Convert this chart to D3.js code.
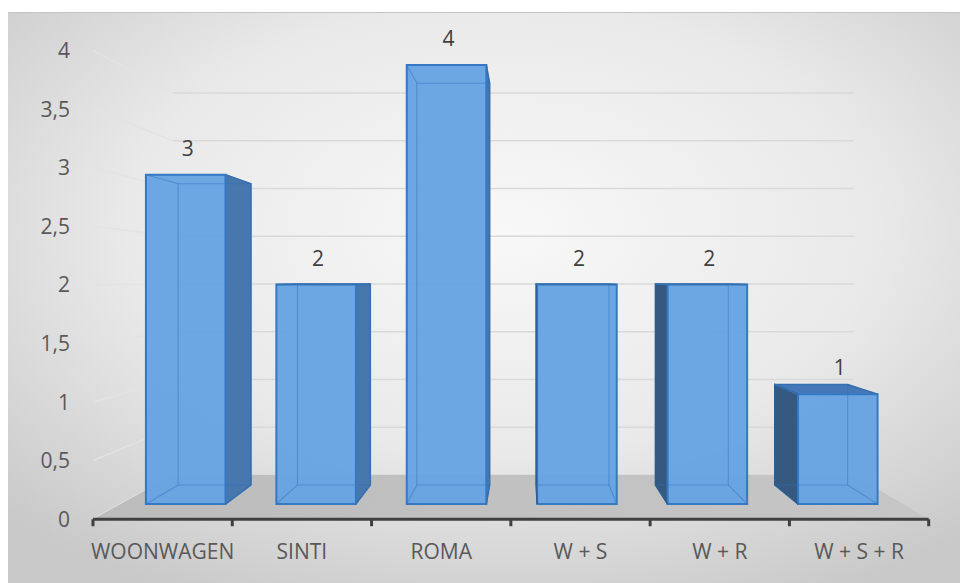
<!DOCTYPE html>
<html>
<head>
<meta charset="utf-8">
<script src="https://cdn.jsdelivr.net/npm/d3@7"></script>
<style>
  html, body { margin: 0; padding: 0; background: #ffffff; }
  svg { display: block; }
  text { font-family: "Open Sans", "Noto Sans", sans-serif; }
</style>
</head>
<body>
<svg id="chart" width="960" height="583"></svg>
<script>
// Chart data
const categories = ["WOONWAGEN", "SINTI", "ROMA", "W + S", "W + R", "W + S + R"];
const values = [3, 2, 4, 2, 2, 1];
const yTicks = [0, 0.5, 1, 1.5, 2, 2.5, 3, 3.5, 4];
const yTickLabels = ["0", "0,5", "1", "1,5", "2", "2,5", "3", "3,5", "4"];

const svg = d3.select("#chart");
const W = 960, H = 583;

// One-point perspective: every depth plane is a scaled copy of the
// front plane about the vanishing point.
const VP = [525, 280];
const DEPTH = { floorFront: 1.068, barFront: 1.0, barBack: 0.915, wall: 0.87 };
const project = (px, py, s) => [VP[0] + s * (px - VP[0]), VP[1] + s * (py - VP[1])];

// Scales in the bar front plane
const plotX = [120.5, 903];
const x = d3.scaleBand().domain(categories).range(plotX).paddingInner(0.39).paddingOuter(0.195);
const y = d3.scaleLinear().domain([0, 4]).range([504, 65]);
const edge = d3.scaleLinear().domain([0, categories.length]).range(plotX);

const fmt = d3.formatLocale({ decimal: ",", thousands: ".", grouping: [3], currency: ["", ""] }).format("~g");

// ---- background ----
const defs = svg.append("defs");
const bg = defs.append("radialGradient").attr("id", "bg")
  .attr("cx", "52%").attr("cy", "38%").attr("r", "72%");
bg.append("stop").attr("offset", "0%").attr("stop-color", "#f8f8f8");
bg.append("stop").attr("offset", "55%").attr("stop-color", "#e9e9e9");
bg.append("stop").attr("offset", "100%").attr("stop-color", "#c9c9c9");

const floorGrad = defs.append("linearGradient").attr("id", "floorGrad")
  .attr("x1", "0%").attr("x2", "100%").attr("y1", "0%").attr("y2", "0%");
floorGrad.append("stop").attr("offset", "0%").attr("stop-color", "#bcbcbc");
floorGrad.append("stop").attr("offset", "100%").attr("stop-color", "#c6c6c6");

svg.append("rect").attr("x", 8).attr("y", 12).attr("width", W - 8).attr("height", H - 12)
  .attr("fill", "url(#bg)");
svg.append("line").attr("x1", 8).attr("x2", W).attr("y1", 12.5).attr("y2", 12.5)
  .attr("stroke", "#c4c4c4").attr("stroke-width", 1);

const line = d3.line();

// ---- gridlines: left wall (front to back) and back wall ----
const grid = svg.append("g");
yTicks.forEach(t => {
  const a = project(plotX[0], y(t), DEPTH.floorFront);
  const b = project(plotX[0], y(t), DEPTH.wall);
  const c = project(plotX[1], y(t), DEPTH.wall);
  grid.append("path").attr("d", line([a, b]))
    .attr("fill", "none").attr("stroke", "#e3e3e3").attr("stroke-width", 1.5);
  grid.append("path").attr("d", line([b, c]))
    .attr("fill", "none").attr("stroke", "#d9d9d9").attr("stroke-width", 1.5);
});

// ---- floor ----
const floorPts = [
  project(plotX[0], y(0), DEPTH.wall),
  project(plotX[1], y(0), DEPTH.wall),
  project(plotX[1], y(0), DEPTH.floorFront),
  project(plotX[0], y(0), DEPTH.floorFront)
];
svg.append("path").attr("d", line(floorPts) + "Z").attr("fill", "url(#floorGrad)");

// ---- category axis along the front edge of the floor ----
const axisY = project(plotX[0], y(0), DEPTH.floorFront)[1];
const axisG = svg.append("g");
axisG.append("path")
  .attr("d", line([project(plotX[0], y(0), DEPTH.floorFront), project(plotX[1], y(0), DEPTH.floorFront)]))
  .attr("stroke", "#404040").attr("stroke-width", 3).attr("fill", "none");
d3.range(categories.length + 1).forEach(i => {
  const p = project(edge(i), y(0), DEPTH.floorFront);
  axisG.append("line").attr("x1", p[0]).attr("x2", p[0]).attr("y1", axisY).attr("y2", axisY + 7)
    .attr("stroke", "#404040").attr("stroke-width", 3);
});

// ---- bars as transparent boxes ----
const bars = svg.append("g");
categories.forEach((cat, i) => {
  const x0 = x(cat), x1 = x0 + x.bandwidth();
  const yt = y(values[i]), yb = y(0);
  const F = [[x0, yt], [x1, yt], [x1, yb], [x0, yb]].map(p => project(p[0], p[1], DEPTH.barFront));
  const B = [[x0, yt], [x1, yt], [x1, yb], [x0, yb]].map(p => project(p[0], p[1], DEPTH.barBack));
  const g = bars.append("g");

  // side faces
  if (x1 < VP[0]) {
    g.append("path").attr("d", line([F[1], B[1], B[2], F[2]]) + "Z").attr("fill", "#4877ad");
  }
  if (x0 > VP[0]) {
    g.append("path").attr("d", line([F[0], B[0], B[3], F[3]]) + "Z").attr("fill", "#36597f");
  }
  // top face (seen from above when it sits below the horizon)
  if (yt > VP[1]) {
    g.append("path").attr("d", line([F[0], F[1], B[1], B[0]]) + "Z").attr("fill", "#4478b6");
  }
  // front face
  g.append("path").attr("d", line(F) + "Z").attr("fill", "#67a4e2").attr("fill-opacity", 0.97);

  // edges behind the front face, seen through it
  const hidden = "rgba(45,110,190,0.45)";
  g.append("path").attr("d", line(B) + "Z").attr("fill", "none").attr("stroke", hidden).attr("stroke-width", 1.1);
  [0, 1, 2, 3].forEach(k => {
    g.append("path").attr("d", line([F[k], B[k]])).attr("fill", "none").attr("stroke", hidden).attr("stroke-width", 1.1);
  });

  // outline
  g.append("path").attr("d", line(F) + "Z").attr("fill", "none").attr("stroke", "#3579c4").attr("stroke-width", 2);
  if (x1 < VP[0]) {
    g.append("path").attr("d", line([F[1], B[1], B[2], F[2]])).attr("fill", "none").attr("stroke", "#3670b0").attr("stroke-width", 1.6);
  }
  if (x0 > VP[0]) {
    g.append("path").attr("d", line([F[0], B[0], B[3], F[3]])).attr("fill", "none").attr("stroke", "#2e5d90").attr("stroke-width", 1.6);
  }
  if (yt > VP[1]) {
    g.append("path").attr("d", line([F[0], B[0], B[1], F[1]])).attr("fill", "none").attr("stroke", "#3670b0").attr("stroke-width", 1.6);
  }
});

// ---- data labels ----
svg.append("g").selectAll("text").data(categories).join("text")
  .attr("x", (d, i) => x(d) + x.bandwidth() / 2 + 2)
  .attr("y", (d, i) => y(values[i]) - 19)
  .attr("text-anchor", "middle")
  .attr("font-size", 21)
  .attr("fill", "#404040")
  .text((d, i) => fmt(values[i]));

// ---- value axis labels ----
svg.append("g").selectAll("text").data(yTicks).join("text")
  .attr("x", 70)
  .attr("y", t => project(plotX[0], y(t), DEPTH.floorFront)[1])
  .attr("dy", "0.36em")
  .attr("text-anchor", "end")
  .attr("font-size", 21)
  .attr("fill", "#595959")
  .text((t, i) => yTickLabels[i]);

// ---- category labels ----
svg.append("g").selectAll("text").data(categories).join("text")
  .attr("x", (d, i) => project(edge(i + 0.5), y(0), DEPTH.floorFront)[0])
  .attr("y", 559)
  .attr("text-anchor", "middle")
  .attr("font-size", 21)
  .attr("fill", "#595959")
  .text(d => d);
</script>
</body>
</html>
